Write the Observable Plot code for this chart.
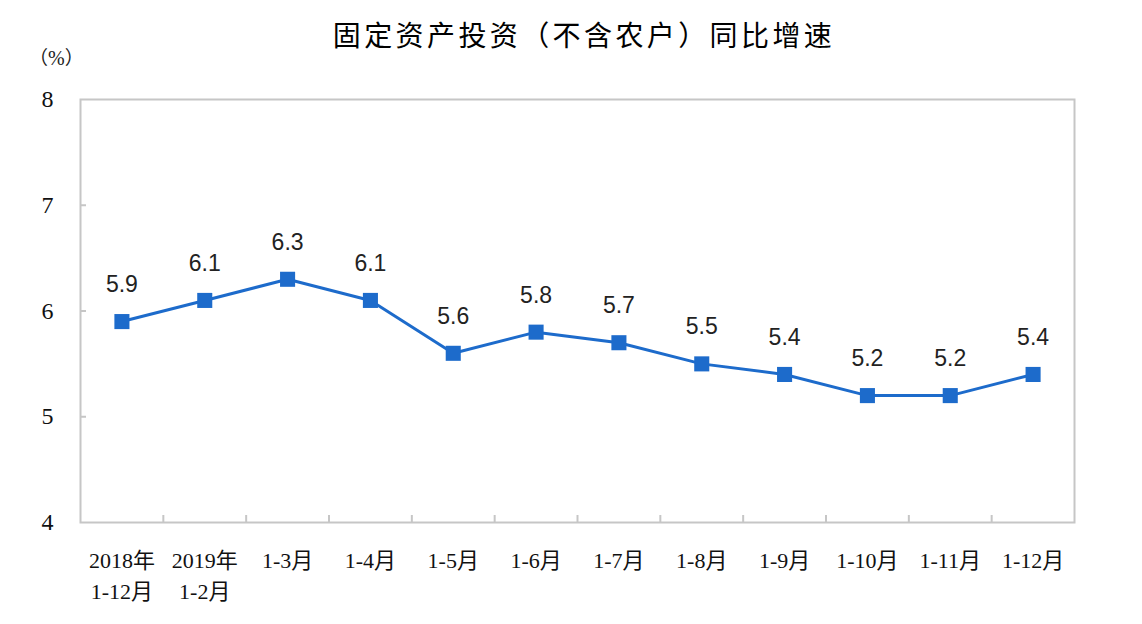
<!DOCTYPE html>
<html>
<head>
<meta charset="utf-8">
<script src="https://cdn.jsdelivr.net/npm/d3@7"></script>
<script src="https://cdn.jsdelivr.net/npm/@observablehq/plot@0.6"></script>
<style>
  body { margin: 0; background: #fff; }
  #wrap { position: relative; width: 1142px; }
  #header { position: relative; height: 70px; }
  #title { position: absolute; left: 26px; right: 0; top: -1px; height: 70px; line-height: 70px; text-align: center;
           font-family: "Noto Sans CJK SC", sans-serif; font-size: 28px; font-weight: 400; letter-spacing: 3.4px; color: #000; }
  #unit { position: absolute; left: 29px; top: 43px; font-family: "Noto Sans CJK SC", serif;
          font-size: 19px; color: #222; }
  #unit span { font-family: "Liberation Serif", serif; font-size: 20px; }
</style>
</head>
<body>
<div id="wrap">
  <div id="header">
    <div id="title">固定资产投资（不含农户）同比增速</div>
    <div id="unit">（<span>%</span>）</div>
  </div>
  <div id="chart"></div>
</div>
<script>
const categories = ["2018年\n1-12月", "2019年\n1-2月", "1-3月", "1-4月", "1-5月", "1-6月", "1-7月", "1-8月", "1-9月", "1-10月", "1-11月", "1-12月"];
const values = [5.9, 6.1, 6.3, 6.1, 5.6, 5.8, 5.7, 5.5, 5.4, 5.2, 5.2, 5.4];
const yTicks = [4, 5, 6, 7, 8];

const data = categories.map((c, i) => ({i, cat: c, v: values[i]}));
const boundaries = d3.range(categories.length - 1).map(i => i + 0.5);
const blue = "#1d6bcb";

const chart = Plot.plot({
  width: 1142,
  height: 554,
  marginTop: 29,
  marginBottom: 102,
  marginLeft: 80,
  marginRight: 68,
  style: {fontFamily: "'Liberation Serif', 'Noto Sans CJK SC', serif", fontSize: "22px", color: "#111", background: "#fff"},
  x: {type: "linear", domain: [-0.5, categories.length - 0.5], label: null},
  y: {domain: [4, 8], label: null},
  marks: [
    Plot.frame({stroke: "#c6c6c6", strokeWidth: 2}),
    Plot.ruleX(boundaries, {x: d => d, stroke: "#c6c6c6", strokeWidth: 2, insetTop: 416}),
    Plot.ruleY(yTicks.slice(1, -1), {y: d => d, stroke: "#c6c6c6", strokeWidth: 2, insetRight: 988}),
    Plot.axisX(d3.range(categories.length), {
      tickSize: 0, tickPadding: 24, tickFormat: i => categories[i], label: null,
      lineHeight: 1.4, fontSize: 22, fill: "#111"
    }),
    Plot.axisY(yTicks, {tickSize: 0, tickPadding: 27, tickFormat: d => String(d), label: null, fontSize: 24, fill: "#111"}),
    Plot.line(data, {x: "i", y: "v", stroke: blue, strokeWidth: 3}),
    Plot.dot(data, {x: "i", y: "v", symbol: "square", r: 8.5, fill: blue, stroke: "none"}),
    Plot.text(data, {x: "i", y: "v", text: d => d.v.toFixed(1), dy: -37,
      fontFamily: "'Liberation Sans', Arial, sans-serif", fontSize: 23, fill: "#222"})
  ]
});
document.getElementById("chart").appendChild(chart);
</script>
</body>
</html>
